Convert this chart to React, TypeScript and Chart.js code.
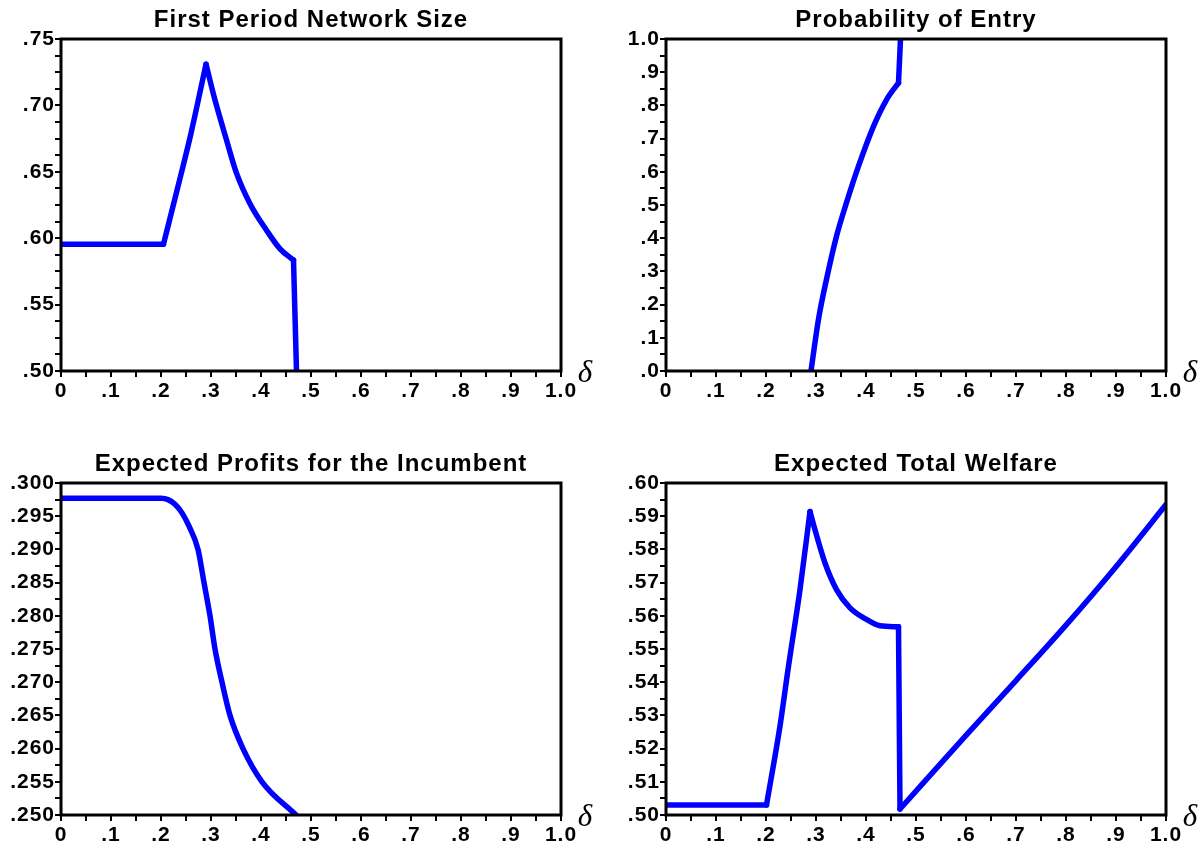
import React, { useEffect, useRef } from 'react';
import { Chart, registerables } from 'chart.js';

Chart.register(...registerables);

// ---------- data ----------
const xTickLabels = ['0', '.1', '.2', '.3', '.4', '.5', '.6', '.7', '.8', '.9', '1.0'];

// First Period Network Size
const sizeX = [0, 0.205, 0.232, 0.26, 0.29, 0.308, 0.331, 0.351, 0.378, 0.411, 0.438, 0.465, 0.471];
const sizeY = [0.5955, 0.5955, 0.636, 0.679, 0.731, 0.704, 0.674, 0.649, 0.626, 0.606, 0.592, 0.5835, 0.5];
const sizeBreaks = [0, 1, 4, 11, 12];
const sizeTickLabels = ['.50', '.55', '.60', '.65', '.70', '.75'];

// Probability of Entry
const entryX = [0.29, 0.305, 0.321, 0.341, 0.361, 0.385, 0.415, 0.441, 0.465, 0.469];
const entryY = [0, 0.156, 0.276, 0.406, 0.507, 0.617, 0.737, 0.817, 0.868, 1.0];
const entryBreaks = [0, 8, 9];
const entryTickLabels = ['.0', '.1', '.2', '.3', '.4', '.5', '.6', '.7', '.8', '.9', '1.0'];

// Expected Profits for the Incumbent
const profitX = [0, 0.2, 0.214, 0.228, 0.242, 0.256, 0.274, 0.286, 0.298, 0.308, 0.322, 0.338, 0.364, 0.402, 0.47];
const profitY = [0.2977, 0.2977, 0.2975, 0.2968, 0.2955, 0.2935, 0.29, 0.285, 0.28, 0.275, 0.27, 0.265, 0.26, 0.255, 0.25];
const profitBreaks = [0, 14];
const profitTickLabels = ['.250', '.255', '.260', '.265', '.270', '.275', '.280', '.285', '.290', '.295', '.300'];

// Expected Total Welfare
const welfareX = [0, 0.201, 0.228, 0.245, 0.268, 0.288, 0.298, 0.318, 0.341, 0.368, 0.401, 0.428, 0.465, 0.468, 0.6, 0.7, 0.8, 0.9, 1.0];
const welfareY = [0.503, 0.503, 0.5268, 0.5448, 0.5679, 0.5914, 0.5859, 0.5759, 0.5679, 0.5624, 0.5589, 0.557, 0.5567, 0.5018, 0.524, 0.5405, 0.5572, 0.5748, 0.5935];
const welfareBreaks = [0, 1, 5, 12, 13, 18];
const welfareTickLabels = ['.50', '.51', '.52', '.53', '.54', '.55', '.56', '.57', '.58', '.59', '.60'];

// ---------- helpers ----------
const FONT = '"Liberation Sans", Arial, sans-serif';

const framePlugin = {
  id: 'frame',
  beforeDraw(chart: any) {
    chart.ctx.letterSpacing = '1px';
  },
  afterDraw(chart: any) {
    const { ctx, chartArea: a } = chart;
    ctx.save();
    ctx.letterSpacing = '0px';
    ctx.strokeStyle = '#000';
    ctx.lineWidth = 3;
    ctx.strokeRect(a.left, a.top, a.right - a.left, a.bottom - a.top);
    ctx.fillStyle = '#000';
    ctx.font = 'italic 31px "Liberation Serif", "DejaVu Serif", serif';
    ctx.textAlign = 'center';
    ctx.textBaseline = 'alphabetic';
    ctx.fillText('δ', a.right + 24, a.bottom + 11);
    ctx.restore();
  },
};

function makeTicks(min: number, max: number, labels: string[], sub: number) {
  const n = (labels.length - 1) * sub;
  const vals: number[] = [];
  for (let i = 0; i <= n; i++) vals.push(min + ((max - min) * i) / n);
  return vals;
}

type PanelProps = {
  left: number;
  top: number;
  width: number;
  padRight: number;
  title: string;
  xs: number[];
  ys: number[];
  breaks: number[];
  yMin: number;
  yMax: number;
  yLabels: string[];
  ySub: number;
};

function Panel(p: PanelProps) {
  const ref = useRef<HTMLCanvasElement | null>(null);
  useEffect(() => {
    if (!ref.current) return;
    const xVals = makeTicks(0, 1, xTickLabels, 2);
    const yVals = makeTicks(p.yMin, p.yMax, p.yLabels, p.ySub);
    const tickFont = { family: FONT, size: 21, weight: 'bold' as const };
    const pts = p.xs.map((x, i) => ({ x, y: p.ys[i] }));
    const datasets = [] as any[];
    for (let k = 0; k < p.breaks.length - 1; k++) {
      datasets.push({
        data: pts.slice(p.breaks[k], p.breaks[k + 1] + 1),
        borderColor: '#0000ff',
        borderWidth: 5.5,
        pointRadius: 0,
        cubicInterpolationMode: 'monotone',
        borderJoinStyle: 'round',
        borderCapStyle: 'round',
        fill: false,
      });
    }
    const chart = new Chart(ref.current, {
      type: 'line',
      data: { datasets },
      options: {
        responsive: false,
        maintainAspectRatio: false,
        animation: false,
        layout: { padding: { left: 0, right: p.padRight, top: 0, bottom: 0 } },
        plugins: {
          legend: { display: false },
          tooltip: { enabled: false },
          title: {
            display: true,
            fullSize: false,
            text: p.title,
            color: '#000',
            font: { family: FONT, size: 24, weight: 'bold', lineHeight: 1 },
            padding: { top: 8, bottom: 7 },
          },
        },
        scales: {
          x: {
            type: 'linear',
            min: 0,
            max: 1,
            border: { display: false },
            grid: { drawOnChartArea: false, drawTicks: true, tickLength: 6, color: '#000', lineWidth: 2 },
            afterBuildTicks: (s: any) => {
              s.ticks = xVals.map((v) => ({ value: v }));
            },
            afterFit: (s: any) => {
              s.height = 39;
            },
            ticks: {
              autoSkip: false,
              maxRotation: 0,
              color: '#000',
              padding: 2,
              font: tickFont,
              callback: (_v: any, i: number) => (i % 2 === 0 ? xTickLabels[i / 2] : ''),
            },
          },
          y: {
            type: 'linear',
            min: p.yMin,
            max: p.yMax,
            border: { display: false },
            grid: { drawOnChartArea: false, drawTicks: true, tickLength: 6, color: '#000', lineWidth: 2 },
            afterBuildTicks: (s: any) => {
              s.ticks = yVals.map((v) => ({ value: v }));
            },
            afterFit: (s: any) => {
              s.width = 61;
            },
            ticks: {
              autoSkip: false,
              color: '#000',
              padding: 0,
              font: tickFont,
              callback: (_v: any, i: number) => (i % p.ySub === 0 ? p.yLabels[i / p.ySub] : ''),
            },
          },
        },
      },
      plugins: [framePlugin],
    } as any);
    return () => chart.destroy();
  }, []);
  return (
    <canvas
      ref={ref}
      width={p.width}
      height={410}
      style={{ position: 'absolute', left: p.left, top: p.top, width: p.width, height: 410 }}
    />
  );
}

export default function App() {
  return (
    <div
      style={{
        position: 'absolute',
        left: 0,
        top: 0,
        width: 1198,
        height: 845,
        overflow: 'hidden',
        background: '#fff',
      }}
    >
      <Panel left={0} top={0} width={600} padRight={39} title="First Period Network Size"
        xs={sizeX} ys={sizeY} breaks={sizeBreaks} yMin={0.5} yMax={0.75} yLabels={sizeTickLabels} ySub={4} />
      <Panel left={605} top={0} width={593} padRight={32} title="Probability of Entry"
        xs={entryX} ys={entryY} breaks={entryBreaks} yMin={0} yMax={1} yLabels={entryTickLabels} ySub={2} />
      <Panel left={0} top={444} width={600} padRight={39} title="Expected Profits for the Incumbent"
        xs={profitX} ys={profitY} breaks={profitBreaks} yMin={0.25} yMax={0.3} yLabels={profitTickLabels} ySub={2} />
      <Panel left={605} top={444} width={593} padRight={32} title="Expected Total Welfare"
        xs={welfareX} ys={welfareY} breaks={welfareBreaks} yMin={0.5} yMax={0.6} yLabels={welfareTickLabels} ySub={2} />
    </div>
  );
}
